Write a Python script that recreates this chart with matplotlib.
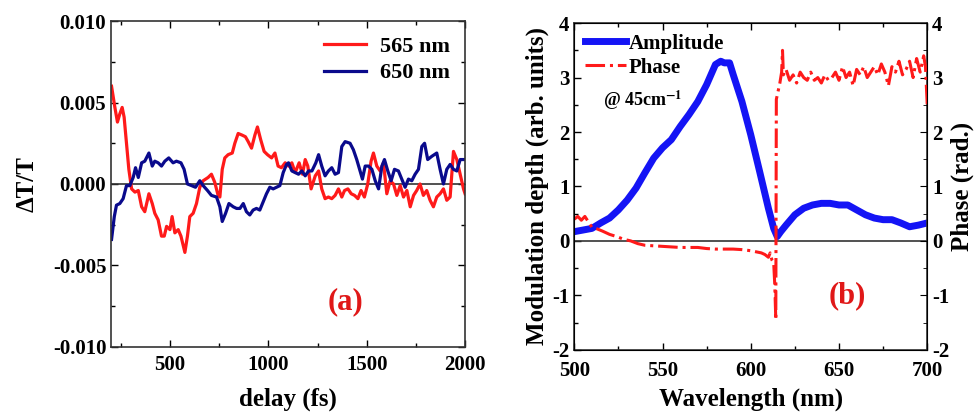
import matplotlib
matplotlib.use('Agg')
import matplotlib.pyplot as plt
from matplotlib.ticker import MultipleLocator

plt.rcParams['font.family'] = ['Liberation Serif', 'DejaVu Serif']
plt.rcParams['font.weight'] = 'bold'
plt.rcParams['mathtext.fontset'] = 'stix'
plt.rcParams['axes.unicode_minus'] = False

# ---- panel (a): delay traces ----
t_565 = [202, 219, 232, 244, 256, 266, 278, 290, 304, 321, 338, 355, 371, 392, 409, 422,
         439, 456, 470, 482, 499, 510, 524, 541, 555, 575, 588, 600, 617, 634, 651, 668,
         693, 710, 727, 744, 753, 765, 778, 795, 816, 829, 846, 866, 883, 897, 914, 931,
         944, 961, 978, 995, 1016, 1033, 1049, 1066, 1085, 1102, 1119, 1136, 1156, 1173,
         1187, 1200, 1217, 1238, 1255, 1271, 1288, 1305, 1322, 1339, 1356, 1373, 1387,
         1404, 1421, 1438, 1455, 1471, 1488, 1505, 1522, 1534, 1551, 1568, 1585, 1602,
         1619, 1636, 1653, 1670, 1687, 1704, 1721, 1738, 1754, 1771, 1788, 1805, 1822,
         1839, 1856, 1873, 1890, 1907, 1924, 1941, 1958, 1975, 1992, 2000]
v_565 = [0.0060, 0.0047, 0.0038, 0.0043, 0.0047, 0.0041, 0.0025, 0.0009, -0.0003, -0.0005,
         -0.0004, -0.0014, -0.0017, -0.0006, -0.0012, -0.0018, -0.0022, -0.0032, -0.0032,
         -0.0026, -0.0028, -0.0020, -0.0030, -0.0028, -0.0032, -0.0042, -0.0032, -0.0020,
         -0.0018, -0.0012, -0.0002, 0.0002, 0.0004, 0.0006, 0.0001, -0.0007, -0.0008,
         0.0009, 0.0016, 0.0018, 0.0019, 0.0025, 0.0031, 0.0030, 0.0029, 0.0026, 0.0022,
         0.0030, 0.0035, 0.0027, 0.0020, 0.0018, 0.0016, 0.0019, 0.0011, 0.0010, 0.0013,
         0.0011, 0.0013, 0.0007, 0.0013, 0.0006, 0.0015, 0.0011, -0.0003, 0.0005, 0.0008,
         -0.0003, -0.0009, -0.0008, -0.0009, -0.0007, -0.0003, -0.0008, -0.0004, -0.0003,
         -0.0006, -0.0007, -0.0009, -0.0004, -0.0008, 0.0000, 0.0014, 0.0019, 0.0011,
         0.0008, 0.0013, -0.0006, 0.0002, 0.0000, -0.0007, -0.0001, -0.0008, -0.0004,
         -0.0014, -0.0007, -0.0004, 0.0000, -0.0007, -0.0004, -0.0010, -0.0014, -0.0008,
         -0.0006, -0.0003, -0.0010, -0.0008, 0.0020, 0.0015, 0.0006, -0.0003, -0.0006]

t_650 = [202, 216, 227, 244, 261, 278, 295, 312, 324, 338, 355, 371, 392, 409, 422, 439,
         456, 473, 493, 515, 532, 555, 571, 588, 609, 629, 651, 668, 690, 710, 736, 753,
         765, 782, 799, 821, 838, 855, 872, 888, 905, 922, 939, 956, 973, 990, 1007, 1024,
         1041, 1058, 1075, 1092, 1102, 1119, 1136, 1153, 1170, 1187, 1204, 1221, 1241,
         1255, 1271, 1288, 1305, 1322, 1339, 1356, 1373, 1390, 1415, 1432, 1449, 1466,
         1478, 1492, 1509, 1526, 1543, 1560, 1577, 1590, 1607, 1624, 1641, 1661, 1678,
         1695, 1712, 1729, 1746, 1763, 1780, 1794, 1810, 1831, 1856, 1873, 1890, 1907,
         1924, 1941, 1958, 1975, 1997]
v_650 = [-0.0034, -0.0020, -0.0013, -0.0012, -0.0009, -0.0001, -0.0001, 0.0004, 0.0010,
         0.0004, 0.0013, 0.0014, 0.0019, 0.0011, 0.0014, 0.0013, 0.0011, 0.0014, 0.0016,
         0.0013, 0.0014, 0.0013, 0.0009, 0.0000, -0.0001, -0.0002, 0.0002, -0.0001,
         -0.0004, -0.0007, -0.0008, -0.0014, -0.0023, -0.0018, -0.0012, -0.0014, -0.0015,
         -0.0015, -0.0012, -0.0017, -0.0019, -0.0016, -0.0015, -0.0016, -0.0011, -0.0006,
         -0.0002, -0.0003, -0.0002, -0.0001, 0.0007, 0.0012, 0.0013, 0.0008, 0.0007,
         0.0006, 0.0008, 0.0005, 0.0008, 0.0008, 0.0013, 0.0018, 0.0011, 0.0005, 0.0008,
         0.0010, 0.0006, 0.0007, 0.0023, 0.0026, 0.0025, 0.0021, 0.0015, 0.0008, 0.0003,
         0.0011, 0.0011, 0.0009, 0.0002, -0.0003, 0.0011, 0.0015, 0.0008, 0.0002, 0.0009,
         0.0008, 0.0003, -0.0002, 0.0003, 0.0002, 0.0006, 0.0009, 0.0023, 0.0025, 0.0015,
         0.0017, 0.0019, 0.0009, 0.0000, 0.0009, 0.0012, 0.0009, 0.0008, 0.0015, 0.0015]

# ---- panel (b): amplitude and phase vs wavelength ----
wl_amp = [500, 505, 510, 515, 520, 525, 530, 535, 540, 545, 550, 555, 560, 565, 570, 575,
          580, 583, 585, 588, 590, 595, 600, 605, 610, 613, 615, 617, 620, 625, 630, 635,
          640, 645, 650, 655, 660, 665, 670, 675, 680, 685, 690, 695, 700]
amp = [0.17, 0.20, 0.23, 0.33, 0.42, 0.57, 0.75, 0.97, 1.25, 1.52, 1.71, 1.86, 2.10, 2.32,
       2.56, 2.87, 3.24, 3.30, 3.27, 3.27, 3.06, 2.56, 1.95, 1.28, 0.60, 0.23, 0.08, 0.17,
       0.29, 0.48, 0.60, 0.66, 0.69, 0.69, 0.66, 0.66, 0.57, 0.48, 0.42, 0.39, 0.39, 0.33,
       0.26, 0.29, 0.33]

wl_phase = [500, 502, 504, 506, 508, 510, 513, 516, 520, 524, 528, 532, 536, 540, 545, 550,
            555, 560, 565, 570, 575, 580, 585, 590, 595, 600, 603, 606, 608, 610, 611, 612,
            613, 613.6, 614.2, 614.5, 615.5, 616.5, 617.5, 618, 618.5, 620, 622, 624, 626,
            628, 630, 632, 634, 636, 638, 640, 642, 644, 646, 648, 650, 652, 654, 656, 658,
            660, 662, 664, 666, 668, 670, 672, 674, 676, 678, 680, 682, 684, 686, 688, 690,
            692, 694, 696, 698, 699, 700]
phase = [0.40, 0.45, 0.38, 0.45, 0.35, 0.25, 0.22, 0.18, 0.12, 0.08, 0.03, 0.00, -0.05,
         -0.08, -0.09, -0.10, -0.11, -0.12, -0.12, -0.12, -0.14, -0.15, -0.15, -0.15, -0.16,
         -0.18, -0.20, -0.22, -0.25, -0.30, -0.22, -0.35, -0.40, -0.80, -1.45, 2.60, 2.75,
         2.90, 3.10, 3.50, 3.05, 3.15, 2.95, 3.05, 2.90, 3.10, 3.00, 2.95, 3.10, 2.95, 3.00,
         2.90, 3.05, 2.95, 3.00, 3.10, 2.95, 3.20, 3.00, 3.10, 2.85, 3.15, 3.05, 3.20, 3.00,
         3.10, 3.20, 3.05, 3.25, 3.10, 2.85, 3.20, 3.10, 3.30, 3.05, 3.15, 3.30, 3.00, 3.35,
         3.10, 3.40, 3.20, 2.50]

fig = plt.figure(figsize=(9.75, 4.13), dpi=100)

def style(ax, right=True, xpad=6):
    ax.tick_params(which='both', direction='in', top=True, right=right, labelsize=15)
    ax.tick_params(which='major', length=5, width=1)
    ax.tick_params(which='minor', length=3, width=1)
    ax.tick_params(axis='x', pad=xpad)
    for s in ax.spines.values():
        s.set_linewidth(1.2)
        s.set_color('#333333')

# (a)
ax1 = fig.add_axes([0.114, 0.160, 0.363, 0.789])
ax1.axhline(0, color='#333333', lw=1.2)
ax1.plot(t_565, v_565, color='#ff1a1a', lw=2.3, label='565 nm')
ax1.plot(t_650, v_650, color='#0a0a8c', lw=2.3, label='650 nm')
ax1.set_xlim(200, 2000)
ax1.set_ylim(-0.010, 0.010)
ax1.xaxis.set_major_locator(MultipleLocator(500))
ax1.xaxis.set_minor_locator(MultipleLocator(250))
ax1.yaxis.set_major_locator(MultipleLocator(0.005))
ax1.yaxis.set_minor_locator(MultipleLocator(0.0025))
ax1.yaxis.set_major_formatter(plt.FormatStrFormatter('%.3f'))
style(ax1)
ax1.set_xlabel('delay (fs)', fontsize=18, fontweight='bold', labelpad=9)
ax1.set_ylabel('ΔT/T', fontsize=18, fontweight='bold', labelpad=10)
ax1.legend(loc='upper right', frameon=False, fontsize=16, handlelength=1.9,
           handletextpad=0.6, labelspacing=0.25, borderaxespad=0.3)
ax1.text(1390, -0.0072, '(a)', color='#e01818', fontsize=22, fontweight='bold',
         ha='center', va='center')

# (b)
ax2 = fig.add_axes([0.589, 0.153, 0.362, 0.791])
ax2.axhline(0, color='#333333', lw=1.2)
la, = ax2.plot(wl_amp, amp, color='#1414f5', lw=5, label='Amplitude')
ax2.set_xlim(500, 700)
ax2.set_ylim(-2, 4)
ax2.xaxis.set_major_locator(MultipleLocator(50))
ax2.xaxis.set_minor_locator(MultipleLocator(25))
ax2.yaxis.set_major_locator(MultipleLocator(1))
ax2.yaxis.set_minor_locator(MultipleLocator(0.5))
style(ax2, right=False, xpad=8)
ax2.set_xlabel('Wavelength (nm)', fontsize=18, fontweight='bold', labelpad=5)
ax2.set_ylabel('Modulation depth (arb. units)', fontsize=18, fontweight='bold', labelpad=2)

ax3 = ax2.twinx()
lp, = ax3.plot(wl_phase, phase, color='#ff1a1a', lw=2.2, ls='-.', label='Phase')
ax3.set_ylim(-2, 4)
ax3.yaxis.set_major_locator(MultipleLocator(1))
ax3.yaxis.set_minor_locator(MultipleLocator(0.5))
ax3.tick_params(which='both', direction='in', labelsize=15)
ax3.tick_params(which='major', length=5)
ax3.tick_params(which='minor', length=3)
ax3.set_ylabel('Phase (rad.)', fontsize=18, fontweight='bold', labelpad=1)

ax2.legend(handles=[la, lp], loc='upper left', frameon=False, fontsize=15,
           handlelength=2.0, handletextpad=0.1, labelspacing=0.2,
           borderaxespad=0.2, borderpad=0.3)
ax2.text(0.08, 0.765, '@ 45cm$^{\\mathbf{-1}}$', transform=ax2.transAxes, fontsize=13,
         fontweight='bold', va='center')
ax2.text(655, -1.0, '(b)', color='#e01818', fontsize=22, fontweight='bold',
         ha='center', va='center')

plt.savefig('out.png', dpi=100)
